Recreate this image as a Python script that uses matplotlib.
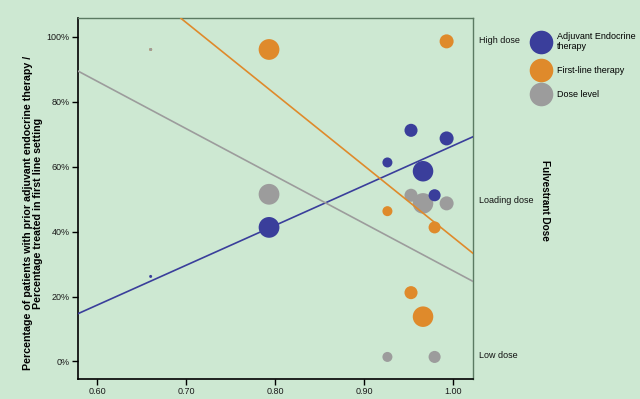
import matplotlib
matplotlib.use("Agg")
import matplotlib.pyplot as plt
from matplotlib.lines import Line2D
from matplotlib.ticker import FuncFormatter
import matplotlib.transforms as mtransforms

plt.rcParams["font.family"] = ["Liberation Sans", "DejaVu Sans"]

# ---- data (one entry per study)
dose_ratio = [0.660, 0.793, 0.926, 0.9525, 0.966, 0.979, 0.9925]
adjuvant_pct = [26.2, 41.3, 61.3, 71.2, 58.6, 51.2, 68.7]
first_line_pct = [96.1, 96.1, 46.3, 21.2, 13.8, 41.3, 98.6]
dose_level_pct = [96.1, 51.5, 1.4, 51.2, 48.7, 1.4, 48.7]
study_weight = [9, 430, 100, 170, 420, 145, 196]

# fitted trend lines (intercept, slope) in % per unit ratio
adjuvant_fit = (-56.3, 122.8)
first_line_fit = (258.8, -220.6)
dose_level_fit = (173.9, -146.0)

dose_labels = ["High dose", "Loading dose", "Low dose"]
dose_label_pct = [98.9, 49.7, 1.7]

BG = "#cde8d2"
BLUE = "#3a3e9b"
ORANGE = "#df8a2b"
GRAY = "#9c9c9c"

sizes = [w * 0.52 for w in study_weight]

fig = plt.figure(figsize=(6.4, 3.99), dpi=100, facecolor=BG)
ax = fig.add_axes([0.1219, 0.0501, 0.6171, 0.9040], facecolor=BG)

ax.scatter(dose_ratio, first_line_pct, s=sizes, color=ORANGE, lw=0, zorder=1.5)
ax.scatter(dose_ratio, dose_level_pct, s=sizes, color=GRAY, lw=0, zorder=2)
for (b, m), c in [(adjuvant_fit, BLUE), (first_line_fit, ORANGE),
                  (dose_level_fit, GRAY)]:
    ax.axline((0, b), slope=m, color=c, lw=1.2, zorder=3)
ax.scatter(dose_ratio, adjuvant_pct, s=sizes, color=BLUE, lw=0, zorder=4)

ax.set_xlim(0.5784, 1.0221)
ax.set_ylim(-5.4, 105.7)
ax.set_xticks([0.6, 0.7, 0.8, 0.9, 1.0])
ax.set_yticks([0, 20, 40, 60, 80, 100])
ax.xaxis.set_major_formatter(FuncFormatter(lambda v, p: f"{v:.2f}"))
ax.yaxis.set_major_formatter(FuncFormatter(lambda v, p: f"{v:.0f}%"))
ax.tick_params(labelsize=6.5, length=4, width=1, color="black",
               labelcolor="#1a1a1a", pad=2)

for side in ["left", "bottom"]:
    ax.spines[side].set_color("black")
    ax.spines[side].set_linewidth(1.2)
for side in ["top", "right"]:
    ax.spines[side].set_color("#5b7a62")
    ax.spines[side].set_linewidth(1.0)

# dose level labels on the right of the axes
trans = mtransforms.blended_transform_factory(ax.transAxes, ax.transData)
for lab, yv in zip(dose_labels, dose_label_pct):
    ax.text(1.015, yv, lab, transform=trans, fontsize=6.5, va="center",
            ha="left", color="#111111")

fig.text(545 / 640, 1 - 200 / 399, "Fulvestrant Dose", rotation=-90,
         fontsize=7.2, fontweight="bold", ha="center", va="center")

fig.text(33 / 640, 1 - 213 / 399,
         "Percentage of patients with prior adjuvant endocrine therapy /\n"
         "Percentage treated in first line setting",
         rotation=90, fontsize=7.7, fontweight="bold", ha="center",
         va="center", linespacing=1.1)

handles = [Line2D([], [], ls="", marker="o", ms=17, mew=0, color=c)
           for c in (BLUE, ORANGE, GRAY)]
fig.legend(handles, ["Adjuvant Endocrine\ntherapy", "First-line therapy",
                     "Dose level"],
           loc="upper left", bbox_to_anchor=(536 / 640, 1 - 32 / 399),
           frameon=False, fontsize=6.5, handlelength=1.0,
           handletextpad=1.3, labelspacing=1.65, borderpad=0,
           borderaxespad=0)

fig.savefig("out.png", dpi=100, facecolor=BG)
